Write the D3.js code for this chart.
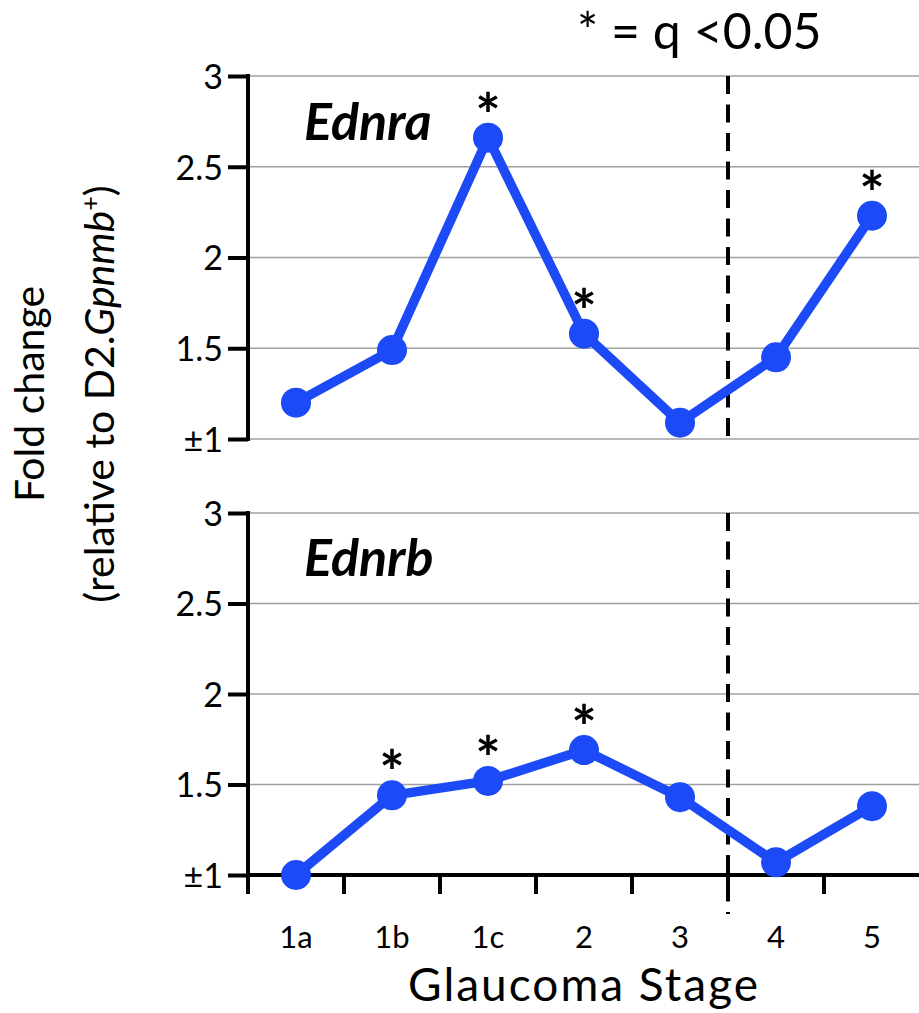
<!DOCTYPE html>
<html>
<head>
<meta charset="utf-8">
<script src="https://cdn.jsdelivr.net/npm/d3@7"></script>
<style>
  html, body { margin: 0; padding: 0; background: #fff; }
  svg { display: block; }
  text { font-family: Lato, "Open Sans", "Noto Sans", sans-serif; fill: #000; }
</style>
</head>
<body>
<svg id="chart" width="919" height="1013"></svg>
<script>
// ---- data ----
const stages = ["1a", "1b", "1c", "2", "3", "4", "5"];
const ednraValues = [1.20, 1.49, 2.66, 1.58, 1.09, 1.45, 2.23];
const ednraSignificant = ["1c", "2", "5"];
const ednrbValues = [1.00, 1.44, 1.52, 1.69, 1.43, 1.07, 1.38];
const ednrbSignificant = ["1b", "1c", "2"];
const yTickValues = [1, 1.5, 2, 2.5, 3];
const yTickLabels = ["±1", "1.5", "2", "2.5", "3"];
const dividerStage = "4";

const svg = d3.select("#chart");
const blue = "#1b4af6";

const x = d3.scaleBand().domain(stages).range([248, 920]).paddingInner(0).paddingOuter(0);
const cx = s => x(s) + x.bandwidth() / 2;

const panels = [
  { name: "Ednra", values: ednraValues, sig: ednraSignificant, y: d3.scaleLinear().domain([1, 3]).range([439, 76]), bottomAxis: false, labelY: 140, dashEnd: 439 },
  { name: "Ednrb", values: ednrbValues, sig: ednrbSignificant, y: d3.scaleLinear().domain([1, 3]).range([875, 513]), bottomAxis: true, labelY: 576, dashEnd: 914 }
];

panels.forEach(p => {
  const g = svg.append("g");
  const y = p.y;
  // gridlines
  g.selectAll("line.grid").data(yTickValues.filter(v => !(p.bottomAxis && v === 1)))
    .enter().append("line")
    .attr("x1", 248).attr("x2", 919)
    .attr("y1", d => y(d)).attr("y2", d => y(d))
    .attr("stroke", "#a0a0a0").attr("stroke-width", 1.5);

  // dashed divider
  g.append("line")
    .attr("x1", x(dividerStage)).attr("x2", x(dividerStage))
    .attr("y1", y(3)).attr("y2", p.dashEnd)
    .attr("stroke", "#000").attr("stroke-width", 4)
    .attr("stroke-dasharray", "18,10.5");

  // x axis (bottom panel)
  if (p.bottomAxis) {
    const xa = g.append("g").attr("transform", `translate(0,${y(1)})`);
    xa.append("line").attr("x1", 246).attr("x2", 919).attr("y1", 0).attr("y2", 0)
      .attr("stroke", "#000").attr("stroke-width", 4);
    xa.selectAll("line.tk").data(stages).enter().append("line")
      .attr("x1", d => x(d)).attr("x2", d => x(d))
      .attr("y1", 0).attr("y2", 19)
      .attr("stroke", "#000").attr("stroke-width", 4);
    const lab = d3.axisBottom(x).tickSize(0).tickPadding(0);
    const lg = g.append("g").attr("transform", `translate(0,${y(1)})`).call(lab);
    lg.select(".domain").remove();
    lg.selectAll("text").attr("y", 73).attr("dy", 0)
      .style("font-size", "31px").style("font-family", "Lato, 'Open Sans', sans-serif").attr("fill", "#000");
  }

  // y axis
  const ya = d3.axisLeft(y).tickValues(yTickValues).tickSize(20).tickSizeOuter(0).tickPadding(5)
    .tickFormat((d, i) => yTickLabels[i]);
  const yg = g.append("g").attr("transform", "translate(248,0)").call(ya);
  yg.select(".domain").attr("stroke", "#000").attr("stroke-width", 4)
    .attr("d", `M0,${y(3) - 2}V${y(1) + (p.bottomAxis ? 19 : 2)}`);
  yg.selectAll(".tick line").attr("stroke", "#000").attr("stroke-width", 4);
  yg.selectAll(".tick text").style("font-size", "34px")
    .style("font-family", "Lato, 'Open Sans', sans-serif").attr("fill", "#000").attr("dy", "0.36em");

  // line
  const line = d3.line().x((d, i) => cx(stages[i])).y(d => y(d));
  g.append("path").datum(p.values).attr("d", line)
    .attr("fill", "none").attr("stroke", blue).attr("stroke-width", 9.5).attr("stroke-linejoin", "round");
  g.selectAll("circle.pt").data(p.values).enter().append("circle")
    .attr("cx", (d, i) => cx(stages[i])).attr("cy", d => y(d)).attr("r", 15)
    .attr("fill", blue);

  // significance asterisks
  g.selectAll("text.sig").data(stages.map((s, i) => ({ s, v: p.values[i] })).filter(d => p.sig.includes(d.s)))
    .enter().append("text")
    .attr("x", d => cx(d.s)).attr("y", d => y(d.v) - 1)
    .attr("text-anchor", "middle")
    .style("font-size", "60px").style("font-weight", "bold").text("*");

  // gene label
  g.append("text").attr("x", 304).attr("y", p.labelY)
    .style("font-size", "52px").style("font-weight", "bold").style("font-style", "italic")
    .text(p.name);
});

// legend note
svg.append("text").attr("x", 577).attr("y", 49)
  .style("font-size", "50px").text("* = q <0.05");

// x axis title
svg.append("text").attr("x", 584).attr("y", 1001).attr("text-anchor", "middle")
  .style("font-size", "46px").style("letter-spacing", "2px").text("Glaucoma Stage");

// y axis title
const yt = svg.append("text").attr("transform", "translate(0,394) rotate(-90)")
  .attr("text-anchor", "middle").style("font-size", "41px");
yt.append("tspan").attr("x", 0).attr("y", 44).text("Fold change");
const l2 = yt.append("tspan").attr("x", 0).attr("y", 114);
l2.append("tspan").text("(relative to D2.");
l2.append("tspan").style("font-style", "italic").text("Gpnmb");
l2.append("tspan").attr("dy", -15).style("font-size", "25px").text("+");
l2.append("tspan").attr("dy", 15).text(")");
</script>
</body>
</html>
